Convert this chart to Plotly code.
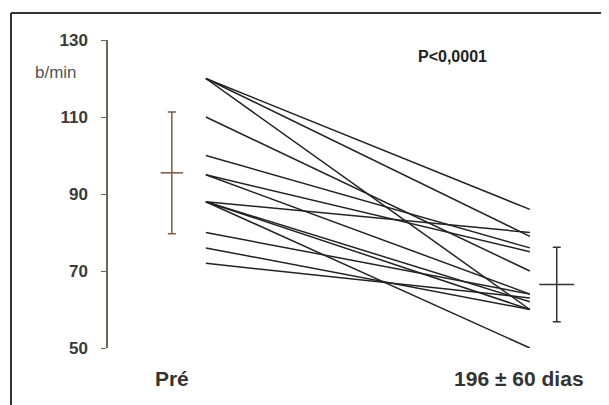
import plotly.graph_objects as go

# Paired heart-rate values (b/min): before (Pré) and after (196 ± 60 dias)
pre_values = [120, 120, 120, 110, 100, 95, 95, 88, 88, 88, 88, 80, 76, 72]
post_values = [86, 79, 60, 70, 76, 75, 64, 80, 60, 62, 50, 64, 60, 63]

# Mean ± SD as drawn
group_labels = ["Pré", "196 ± 60 dias"]
group_means = [95.5, 66.5]
group_sds = [15.8, 9.7]

y_ticks = [50, 70, 90, 110, 130]

# positions on the x scale
x_pre, x_post = 0.0, 1.0
x_err = [-0.105, 1.083]
x_lab = [-0.105, 0.966]
err_colors = ["#7a5a44", "#333333"]
cross_sizes = [16, 25]

fig = go.Figure()

for a, b in zip(pre_values, post_values):
    fig.add_trace(go.Scatter(
        x=[x_pre, x_post], y=[a, b], mode="lines",
        line=dict(color="#222222", width=1.5),
        hoverinfo="skip", showlegend=False))

for xe, m, s, c, cs in zip(x_err, group_means, group_sds, err_colors, cross_sizes):
    fig.add_trace(go.Scatter(
        x=[xe], y=[m], mode="markers",
        marker=dict(symbol="line-ew", size=cs, color=c, line=dict(color=c, width=1.5)),
        error_y=dict(type="data", array=[s], visible=True, color=c, thickness=1.5, width=4),
        showlegend=False))

OFF = 8  # page body offset
L, T, PW, PH = 108 - OFF, 40 - OFF, 501, 308
x0 = -0.302
x1 = x0 + PW / 324.0

fig.update_layout(
    width=609, height=405,
    margin=dict(l=L, r=609 - L - PW, t=T, b=405 - T - PH),
    paper_bgcolor="white", plot_bgcolor="white",
    font=dict(family="Liberation Sans, Arial, sans-serif", color="#333333"),
    xaxis=dict(range=[x0, x1], showgrid=False, zeroline=False, showline=False,
               tickmode="array", tickvals=x_lab, ticktext=group_labels,
               ticks="", ticklabelstandoff=16,
               tickfont=dict(size=21, color="#333333", family="Liberation Sans, Arial, sans-serif", weight="bold")),
    yaxis=dict(range=[50, 130], showgrid=False, zeroline=False, showline=True,
               linecolor="#6f6357", linewidth=1.5,
               tickmode="array", tickvals=y_ticks, ticks="outside", ticklen=5,
               tickcolor="#6f6357", ticklabelstandoff=10,
               tickfont=dict(size=17, color="#3a3a3a", family="Liberation Sans, Arial, sans-serif", weight="bold")),
    annotations=[
        dict(text="b/min", xref="paper", yref="y", x=(56 - 108) / PW, y=121.6, xanchor="center",
             yanchor="middle", showarrow=False, font=dict(size=17, color="#555555")),
        dict(text="P<0,0001", xref="x", yref="y", x=(453 - 206) / 324.0, y=125.6,
             xanchor="center", yanchor="middle", showarrow=False,
             font=dict(size=16, color="#222222", weight="bold")),
    ],
    shapes=[
        dict(type="line", xref="paper", yref="paper",
             x0=(11 - 108) / PW, x1=(11 - 108) / PW, y0=-0.3, y1=(348 - 13) / PH,
             line=dict(color="#333333", width=2)),
        dict(type="line", xref="paper", yref="paper",
             x0=(11 - 108) / PW, x1=1.05, y0=(348 - 13) / PH, y1=(348 - 13) / PH,
             line=dict(color="#333333", width=2)),
    ],
)

fig.write_html("out.html")
